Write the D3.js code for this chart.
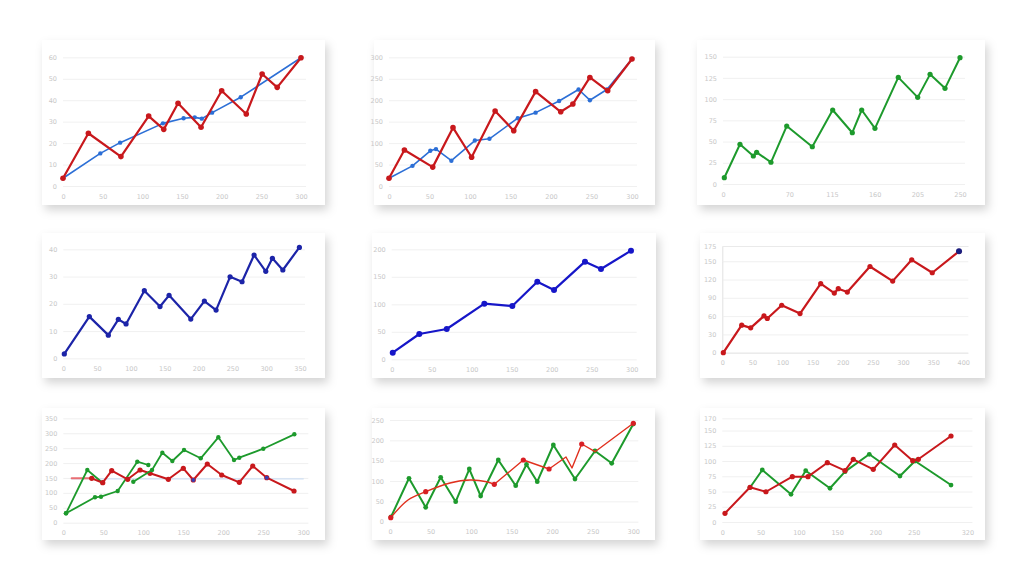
<!DOCTYPE html>
<html><head><meta charset="utf-8">
<script src="https://cdn.jsdelivr.net/npm/d3@7"></script>
<style>body{margin:0;background:#fff}svg{display:block}text{font-family:"DejaVu Sans",sans-serif}</style>
</head><body><svg id="c" width="1022" height="575"></svg>
<script>
// ---------- DATA ----------
const xTicks300 = [0,50,100,150,200,250,300];
const p1YTicks = [0,10,20,30,40,50,60];
const p1Red  = [[0,3.6],[32,24.6],[73,13.7],[108,32.6],[127,26.4],[145,38.6],[174,27.4],[200,44.4],[231,33.6],[251,52.2],[270,46],[300,59.8]];
const p1Blue = [[0,3.6],[47,15.2],[72,20.2],[126,29.2],[152,31.6],[166,32],[175,31.4],[188,34.2],[224,41.4],[300,59.8]];

const p2YTicks = [0,50,100,150,200,250,300];
const p2Red  = [[0,18],[19,84],[54,44],[79,136],[102,67],[131,175],[154,129],[181,220],[212,173],[227,191],[248,253],[270,222],[300,296]];
const p2Blue = [[0,18],[29,47],[51,82],[58,86],[77,59],[106,106],[124,110],[159,158],[181,171],[210,198],[234,225],[248,200],[269,225],[300,296]];

const p3XTicks = [0,70,115,160,205,250];
const p3YTicks = [0,25,50,75,100,125,150];
const p3Green = [[1.4,7.4],[17.9,46.8],[32,33],[35.5,37.3],[50.6,25.6],[67.2,68.3],[94.2,43.9],[115.7,87.2],[136.4,60.4],[146.3,87.2],[160.3,65.6],[184.9,125.7],[205.4,102.1],[218.4,129.2],[234.2,112.7],[250,148.8]];

const p4XTicks = [0,50,100,150,200,250,300,350];
const p4YTicks = [0,10,20,30,40];
const p4Blue = [[1.5,1.6],[38.5,15.3],[66.6,8.5],[81.4,14.3],[92.8,12.6],[119.8,24.8],[143,19],[156.4,23.1],[188.5,14.4],[208.6,21],[225.9,17.7],[246.6,29.9],[264.3,28.1],[282.1,37.9],[299.4,31.9],[309.2,36.7],[324.6,32.4],[349.1,40.7]];

const p5YTicks = [0,50,100,150,200];
const p5Blue = [[1.3,12],[34.5,46],[68.8,55.1],[115.8,101.1],[150.8,96.9],[182,141.1],[202.9,126.2],[241.6,177.5],[261.6,164.2],[299.1,197.5]];

const p6XTicks = [0,50,100,150,200,250,300,350,400];
const p6YTicks = [0,30,60,90,120,150,175];
const p6Red = [[1.7,0],[32.2,45.2],[47.1,40.8],[69.2,60.3],[74.7,56.1],[98.6,77.8],[129,64.2],[163.3,113.2],[185.9,97.8],[192.5,105],[207.5,99.5],[245.1,141.4],[282.8,117.4],[314.4,152.3],[348.5,131.1],[392.9,166.3]];
const p6BlueDot = [[392.9,166.3]];

const p7YTicks = [0,50,100,150,200,250,300,350];
const p7BlueRef = [[10,147],[300,147]];
const p7PinkStart = [[10.5,148.8],[35.5,148.8]];
const p7Red = [[35.5,148.8],[49.3,134.1],[60.5,174.3],[80.5,145.5],[95.9,176.7],[108.4,165.6],[131.3,145.5],[150,182.4],[162.5,143.1],[180,196.8],[198,159.9],[220,135.4],[236.8,190.1],[254.3,150.9],[288.4,106.3]];
const p7GreenA = [[3.4,31.5],[30,176.7],[49,134]];
const p7GreenB = [[3.4,31.5],[39.6,85.1],[47.1,87.2],[68,106.3],[92.5,204.5],[106.3,193.4]];
const p7GreenC = [[87.5,137.4],[110.9,176.7],[123.8,234.7],[136.3,206.8],[150.9,243.7],[171.8,215.9],[193.8,286.3],[213.4,210.2],[220,217.9],[250,248.1],[288.8,296.3]];
const p7BlueDots = [[162.5,143.1],[254.3,150.9]];

const p8YTicks = [0,50,100,150,200,250];
const p8Green = [[1.2,11.6],[23.4,106.7],[44,35.4],[62.5,109.1],[81,49.2],[97.8,129.5],[111.8,63.2],[133.5,151.7],[155,88.5],[168.3,140.6],[181.6,98.3],[201.4,188.5],[228.1,105],[252.8,173.8],[273.4,143.6],[300,240.2]];
const p8RedCurve = [[0.9,9.8],[22.2,53.3],[44,73.7],[74,95.1],[98.6,102.5],[119.2,98.3],[128.6,91.9]];
const p8Red = [[128.6,91.9],[164.4,151.7],[196.1,129.5],[217,159],[224.4,132],[236.4,191],[252.8,172],[300,241.9]];
const p8RedDots = [[0.9,9.8],[44,73.7],[128.6,91.9],[164.4,151.7],[196.1,129.5],[236.4,191],[300,241.9]];

const p9XTicks = [0,50,100,150,200,250,320];
const p9YTicks = [0,25,50,75,100,125,150,170];
const p9Red = [[3.5,14.3],[36.2,56.9],[57,49.6],[91.4,74.3],[111.9,74.3],[137.1,97.2],[160.2,84.1],[171,102.8],[197.1,86.3],[225.1,126.2],[248.6,100.5],[255.9,102.8],[298.6,141]];
const p9Green = [[36.2,56.5],[52.2,85.3],[89.7,45.4],[108.9,84.1],[140.6,55.3],[160.2,82.5],[191.9,111],[232,75.4],[251.6,100],[298.6,60.6]];

// ---------- STYLE / LAYOUT ----------
const RED="#c8181c", LBLUE="#2c6fd6", DBLUE="#1c24a8", BLUE="#1616c8", GREEN="#1d9a2c";
const panels = [
 {card:[42,40,283,165], px:[63,301], py:[186,57.3], xd:[0,300], yd:[0,60], xt:xTicks300, yt:p1YTicks,
  series:[{d:p1Blue,c:LBLUE,w:1.6,r:2.2},{d:p1Red,c:RED,w:2.2,r:2.8}]},
 {card:[374,40,281,165], px:[389,632], py:[186,57.3], xd:[0,300], yd:[0,300], xt:xTicks300, yt:p2YTicks,
  series:[{d:p2Blue,c:LBLUE,w:1.6,r:2.2},{d:p2Red,c:RED,w:2.2,r:2.8}]},
 {card:[697,40,288,165], px:[723,960], py:[184,56.7], xd:[0,250], yd:[0,150], xt:p3XTicks, yt:p3YTicks,
  series:[{d:p3Green,c:GREEN,w:2,r:2.6}]},
 {card:[42,233,283,145], px:[63.3,300], py:[358.3,249.3], xd:[0,350], yd:[0,40], xt:p4XTicks, yt:p4YTicks,
  series:[{d:p4Blue,c:DBLUE,w:2.2,r:2.6}]},
 {card:[372,233,284,145], px:[391.7,631.7], py:[359.3,249.3], xd:[0,300], yd:[0,200], xt:xTicks300, yt:p5YTicks,
  series:[{d:p5Blue,c:BLUE,w:2.2,r:3}]},
 {card:[700,233,285,145], px:[722.3,963.3], py:[352.7,246], xd:[0,400], yd:[0,175], xt:p6XTicks, yt:p6YTicks, axis:true,
  series:[{d:p6Red,c:RED,w:2.2,r:2.6},{d:p6BlueDot,c:"#1a1f80",w:0,r:3}]},
 {card:[42,408,283,132], px:[63.3,303.3], py:[522.7,418.3], xd:[0,300], yd:[0,350], xt:xTicks300, yt:p7YTicks,
  series:[{d:p7BlueRef,c:"#cfe0f3",w:1.2,r:0},{d:p7PinkStart,c:"#e96f74",w:2,r:0},{d:p7GreenA,c:GREEN,w:1.8,r:2.2},
          {d:p7GreenB,c:GREEN,w:1.8,r:2.2},{d:p7Red,c:RED,w:2,r:2.6},{d:p7GreenC,c:GREEN,w:1.8,r:2.2},{d:p7BlueDots,c:"#3a3fb0",w:0,r:2}]},
 {card:[372,408,283,132], px:[390,633.3], py:[521.7,420], xd:[0,300], yd:[0,250], xt:xTicks300, yt:p8YTicks,
  series:[{d:p8Green,c:GREEN,w:2,r:2.4},{d:p8RedCurve,c:"#e0301e",w:1.4,r:0,smooth:true},{d:p8Red,c:"#e0301e",w:1.4,r:0},{d:p8RedDots,c:"#d81e24",w:0,r:2.6}]},
 {card:[700,408,285,132], px:[722.3,967.4], py:[522,418.3], xd:[0,320], yd:[0,170], xt:p9XTicks, yt:p9YTicks,
  series:[{d:p9Green,c:GREEN,w:2,r:2.4},{d:p9Red,c:RED,w:2,r:2.6}]}
];

const svg = d3.select("#c");
const defs = svg.append("defs");
const f = defs.append("filter").attr("id","sh").attr("x","-10%").attr("y","-10%").attr("width","125%").attr("height","135%");
f.append("feDropShadow").attr("dx",3).attr("dy",5).attr("stdDeviation",5).attr("flood-color","#000").attr("flood-opacity",0.17);

panels.forEach(p=>{
  const g = svg.append("g");
  g.append("rect").attr("x",p.card[0]).attr("y",p.card[1]).attr("width",p.card[2]).attr("height",p.card[3])
    .attr("fill","#fff").attr("filter","url(#sh)");
  const x = d3.scaleLinear().domain(p.xd).range(p.px);
  const y = d3.scaleLinear().domain(p.yd).range(p.py);
  const ya = d3.axisLeft(y).tickValues(p.yt).tickSize(-(p.px[1]-p.px[0]+5)).tickPadding(6);
  const yg = g.append("g").attr("transform",`translate(${p.px[0]},0)`).call(ya);
  yg.select(".domain").attr("stroke", p.axis ? "#e2e2e2" : "none");
  yg.selectAll(".tick line").attr("stroke","#ececec").attr("stroke-width",0.8);
  yg.selectAll(".tick text").attr("fill","#c8c8c8").attr("font-size",6.5);
  const xa = d3.axisBottom(x).tickValues(p.xt).tickSize(0).tickPadding(8);
  const xg = g.append("g").attr("transform",`translate(0,${p.py[0]})`).call(xa);
  xg.select(".domain").attr("stroke","none");
  xg.selectAll(".tick text").attr("fill","#c8c8c8").attr("font-size",6.5);
  p.series.forEach(s=>{
    if(s.w>0){
      const line = d3.line().x(d=>x(d[0])).y(d=>y(d[1])).curve(s.smooth?d3.curveCatmullRom:d3.curveLinear);
      g.append("path").datum(s.d).attr("d",line).attr("fill","none").attr("stroke",s.c)
        .attr("stroke-width",s.w).attr("stroke-linejoin","round").attr("stroke-linecap","round");
    }
    if(s.r>0){
      g.selectAll(null).data(s.d).join("circle").attr("cx",d=>x(d[0])).attr("cy",d=>y(d[1]))
        .attr("r",s.r).attr("fill",s.c);
    }
  });
});
</script></body></html>
